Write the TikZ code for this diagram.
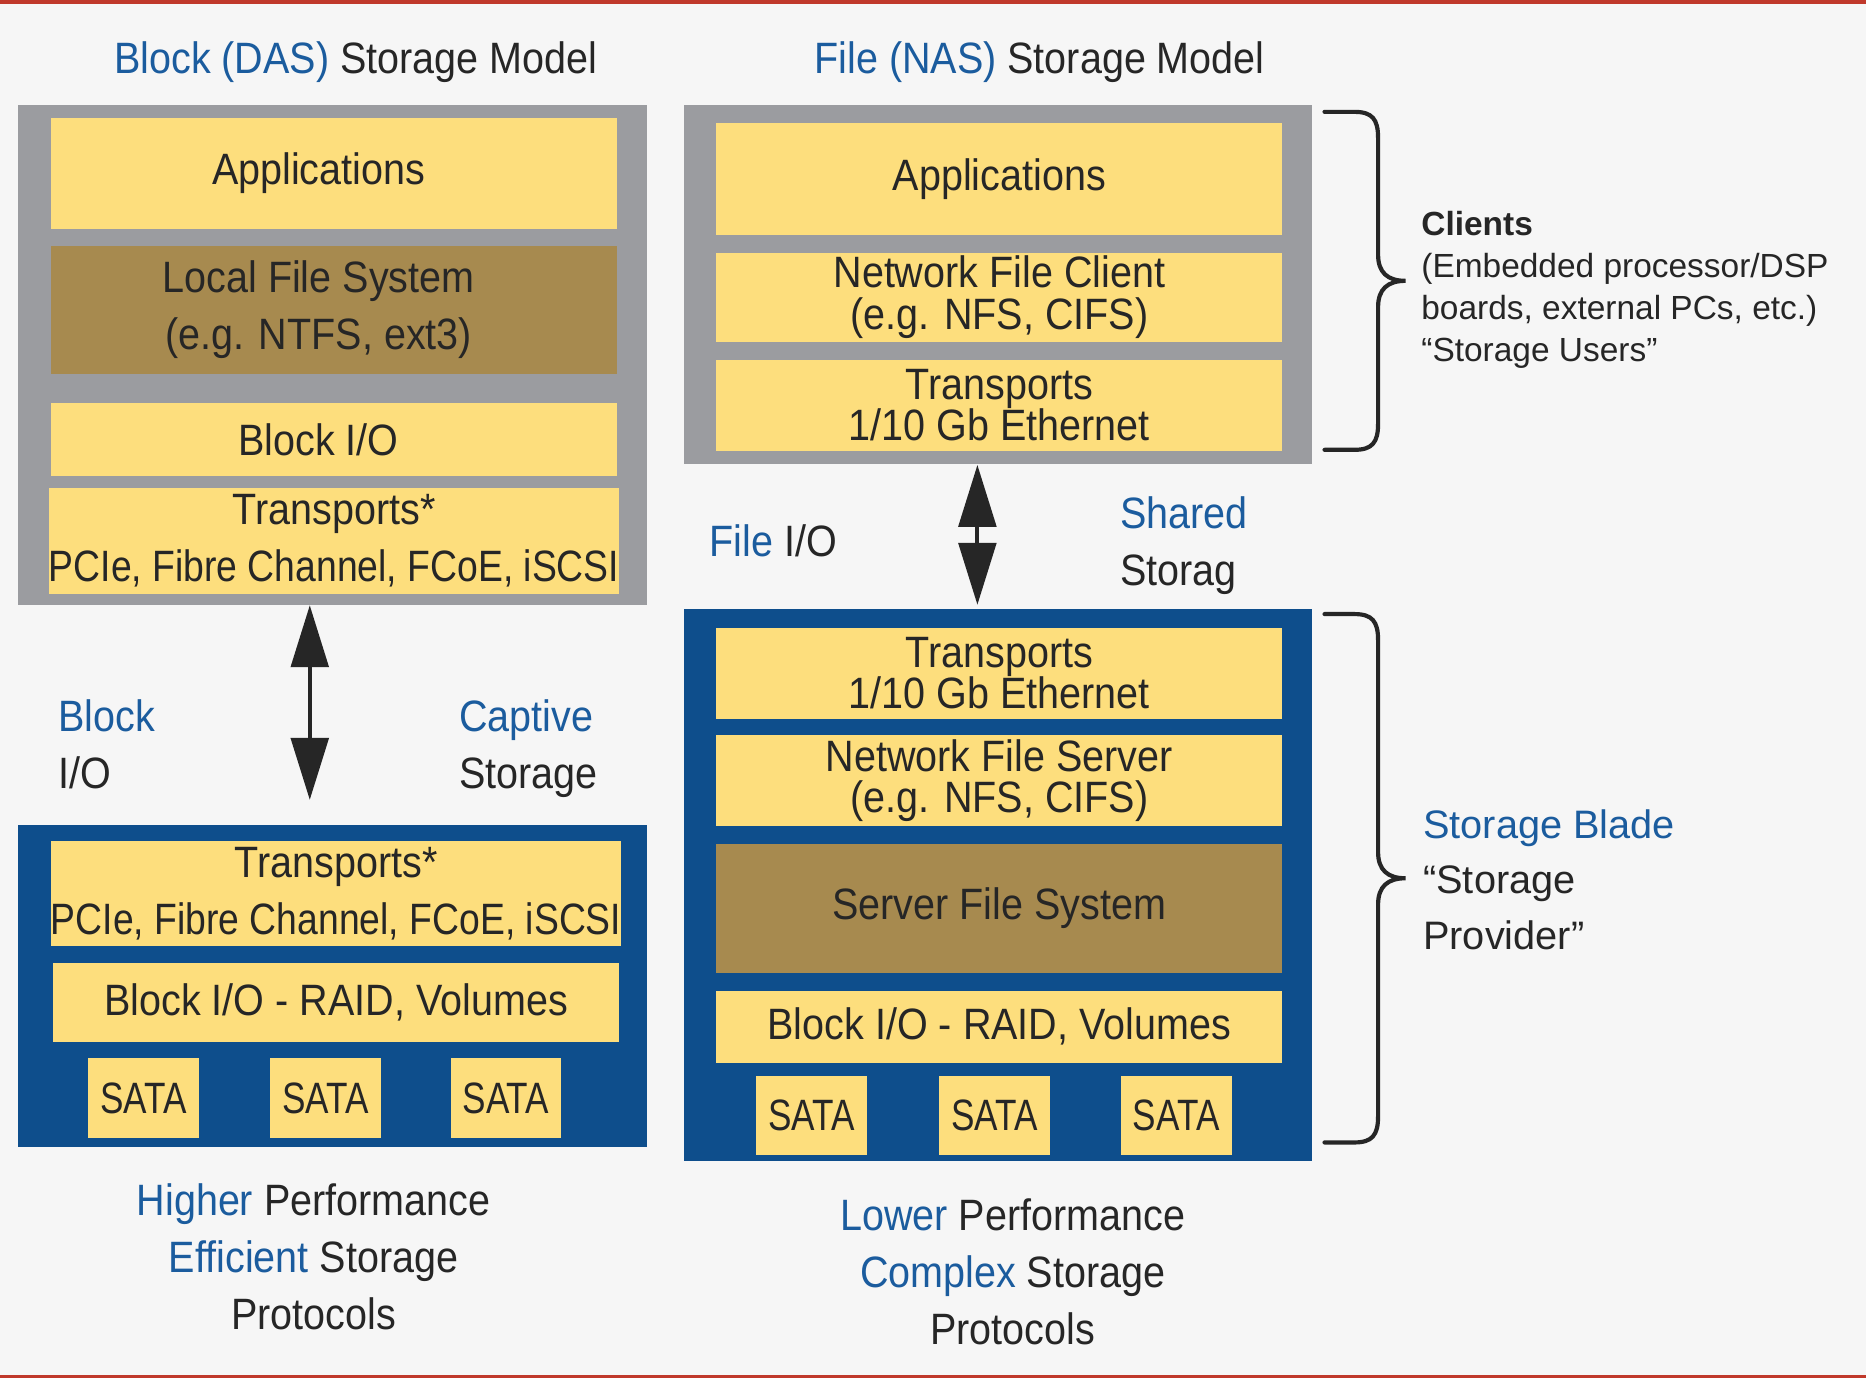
\documentclass[tikz,border=0pt]{standalone}
\usepackage{fontspec}
\setmainfont{Liberation Sans}
\newfontfamily\condfont[FakeStretch=0.9]{Liberation Sans}
\newfontfamily\pcifont[FakeStretch=0.85]{Liberation Sans}
\newfontfamily\satafont[FakeStretch=0.8]{Liberation Sans}
\usetikzlibrary{positioning, arrows.meta}
\definecolor{paper}{HTML}{F6F6F6}
\definecolor{rule}{HTML}{C0392B}
\definecolor{clientgray}{HTML}{9B9CA0}
\definecolor{bladeblue}{HTML}{0E4E8C}
\definecolor{gold}{HTML}{FDDE7D}
\definecolor{fsbrown}{HTML}{A78A4F}
\definecolor{ink}{HTML}{262626}
\definecolor{accent}{HTML}{1B5C9E}
\newcommand{\layersize}{\condfont\fontsize{21}{27.2}\selectfont}
\newcommand{\acc}[1]{\textcolor{accent}{#1}}
\newcommand{\lft}{\kern0.52cm}
\setlength{\lineskiplimit}{-20pt}

\begin{document}
\begin{tikzpicture}[
    x=0.02cm, y=-0.02cm,
    box/.style={anchor=north west, minimum width=10.56cm, inner sep=0pt},
    layer/.style={fill=gold, minimum width=9.52cm, inner sep=0pt, align=center,
                  text=ink, font=\layersize},
    fslayer/.style={layer, fill=fsbrown},
    tight/.style={font=\condfont\fontsize{21}{19.8}\selectfont},
    sata/.style={fill=gold, minimum width=1.86cm, minimum height=1.33cm, inner sep=0pt,
                 text=ink, font=\satafont\fontsize{21}{25}\selectfont},
    caption/.style={text=ink, font=\layersize, inner sep=0pt, align=left},
    side/.style={text=ink, inner sep=0pt, align=left},
    dbl/.style={{Triangle[width=0.63cm,length=1.04cm]}-{Triangle[width=0.63cm,length=1.04cm]},
                line width=1.9pt, draw=ink, fill=ink},
    brace/.style={line width=2pt, line cap=round, draw=ink},
]
\useasboundingbox (0,0) rectangle (1568,1158);
\fill[paper] (0,0) rectangle (1568,1158);
\fill[rule] (0,0) rectangle (1568,3.5);
\fill[rule] (0,1155) rectangle (1568,1158);

% titles
\node[caption, anchor=base] (ltitle) at (299,61.5) {\acc{Block (DAS)} Storage Model};
\node[caption, anchor=base] (rtitle) at (873.5,61.5) {\acc{File (NAS)} Storage Model};

% block (DAS) side
\node[box, fill=clientgray, minimum height=8.4cm] (lhost) at (15,88) {};
\node[layer, anchor=north west, minimum height=1.86cm] (lapp) at (42.4,99) {Applications\lft};
\node[fslayer, minimum height=2.14cm, below=0.28cm of lapp] (llfs) {Local File System\lft\\(e.g. NTFS, ext3)\lft};
\node[layer, minimum height=1.23cm, below=0.48cm of llfs] (lbio) {Block I/O\lft};
\node[layer, minimum height=1.77cm, below=0.19cm of lbio] (ltrn) {Transports*\\{\pcifont PCIe, Fibre Channel, FCoE, iSCSI}};

\node[box, fill=bladeblue, minimum height=5.41cm] (lstore) at (15,692.6) {};
\node[layer, anchor=north west, minimum height=1.78cm] (lbtrn) at (42.4,706) {Transports*\\{\pcifont PCIe, Fibre Channel, FCoE, iSCSI}};
\node[layer, minimum height=1.32cm, below=0.27cm of lbtrn] (lraid) {Block I/O - RAID, Volumes};
\node[sata, anchor=north west] (ls1) at (74,889) {SATA};
\node[sata, right=1.18cm of ls1] (ls2) {SATA};
\node[sata, right=1.16cm of ls2] (ls3) {SATA};

\draw[dbl] ([xshift=-0.38cm]lhost.south) -- ([xshift=-0.38cm,yshift=0.41cm]lstore.north);

\node[caption, anchor=base west] (lio) at (48.7,662.7) {\acc{Block}\\I/O};
\node[caption, anchor=base west] (lcap) at (385.7,662.7) {\acc{Captive}\\Storage};
\node[caption, align=center, anchor=base] (lperf) at (263.5,1117)
    {\acc{Higher} Performance\\\acc{Efficient} Storage\\Protocols};

% file (NAS) side
\node[box, fill=clientgray, minimum height=6.04cm] (rhost) at (574.5,88) {};
\node[layer, anchor=north west, minimum height=1.89cm] (rapp) at (601.4,103) {Applications};
\node[layer, tight, minimum height=1.49cm, below=0.28cm of rapp] (rnfc) {Network File Client\\(e.g. NFS, CIFS)};
\node[layer, tight, minimum height=1.53cm, below=0.29cm of rnfc] (rtrn) {Transports\\1/10 Gb Ethernet};

\node[box, fill=bladeblue, minimum height=9.28cm] (rstore) at (574.5,511.7) {};
\node[layer, tight, anchor=north west, minimum height=1.53cm] (rbtrn) at (601.4,527) {Transports\\1/10 Gb Ethernet};
\node[layer, tight, minimum height=1.52cm, below=0.27cm of rbtrn] (rnfs) {Network File Server\\(e.g. NFS, CIFS)};
\node[fslayer, minimum height=2.17cm, below=0.29cm of rnfs] (rsfs) {Server File System};
\node[layer, minimum height=1.22cm, below=0.28cm of rsfs] (rraid) {Block I/O - RAID, Volumes};
\node[sata, anchor=north west] (rs1) at (635.2,903.7) {SATA};
\node[sata, right=1.2cm of rs1] (rs2) {SATA};
\node[sata, right=1.18cm of rs2] (rs3) {SATA};

\draw[dbl] ([xshift=-0.35cm]rhost.south) -- ([xshift=-0.35cm,yshift=0.07cm]rstore.north);

\node[caption, anchor=base west] (rio) at (596,468) {\acc{File} I/O};
\node[caption, anchor=base west] (rshare) at (941,491.6) {\acc{Shared}\\Storag};
\node[caption, align=center, anchor=base] (rperf) at (851,1129.5)
    {\acc{Lower} Performance\\\acc{Complex} Storage\\Protocols};

% braces and roles
\draw[brace] (1113,94) -- (1138,94) .. controls (1153,94) and (1158,100) .. (1158,116)
    -- (1158,214) .. controls (1158,229) and (1166,236) .. (1181,236)
    .. controls (1166,236) and (1158,243) .. (1158,258)
    -- (1158,356) .. controls (1158,372) and (1153,378) .. (1138,378) -- (1113,378);
\draw[brace] (1113,516) -- (1138,516) .. controls (1153,516) and (1158,522) .. (1158,538)
    -- (1158,716) .. controls (1158,731) and (1166,738) .. (1181,738)
    .. controls (1166,738) and (1158,745) .. (1158,760)
    -- (1158,938) .. controls (1158,954) and (1153,960) .. (1138,960) -- (1113,960);

\node[side, anchor=base west, font=\fontsize{16}{20}\selectfont] (clients) at (1194,303.5)
    {\textbf{Clients}\\(Embedded processor/DSP\\boards, external PCs, etc.)\\“Storage Users”};
\node[side, anchor=base west, font=\fontsize{19}{26.7}\selectfont] (blade) at (1195.6,798)
    {\acc{Storage Blade}\\“Storage\\Provider”};

\end{tikzpicture}
\end{document}
